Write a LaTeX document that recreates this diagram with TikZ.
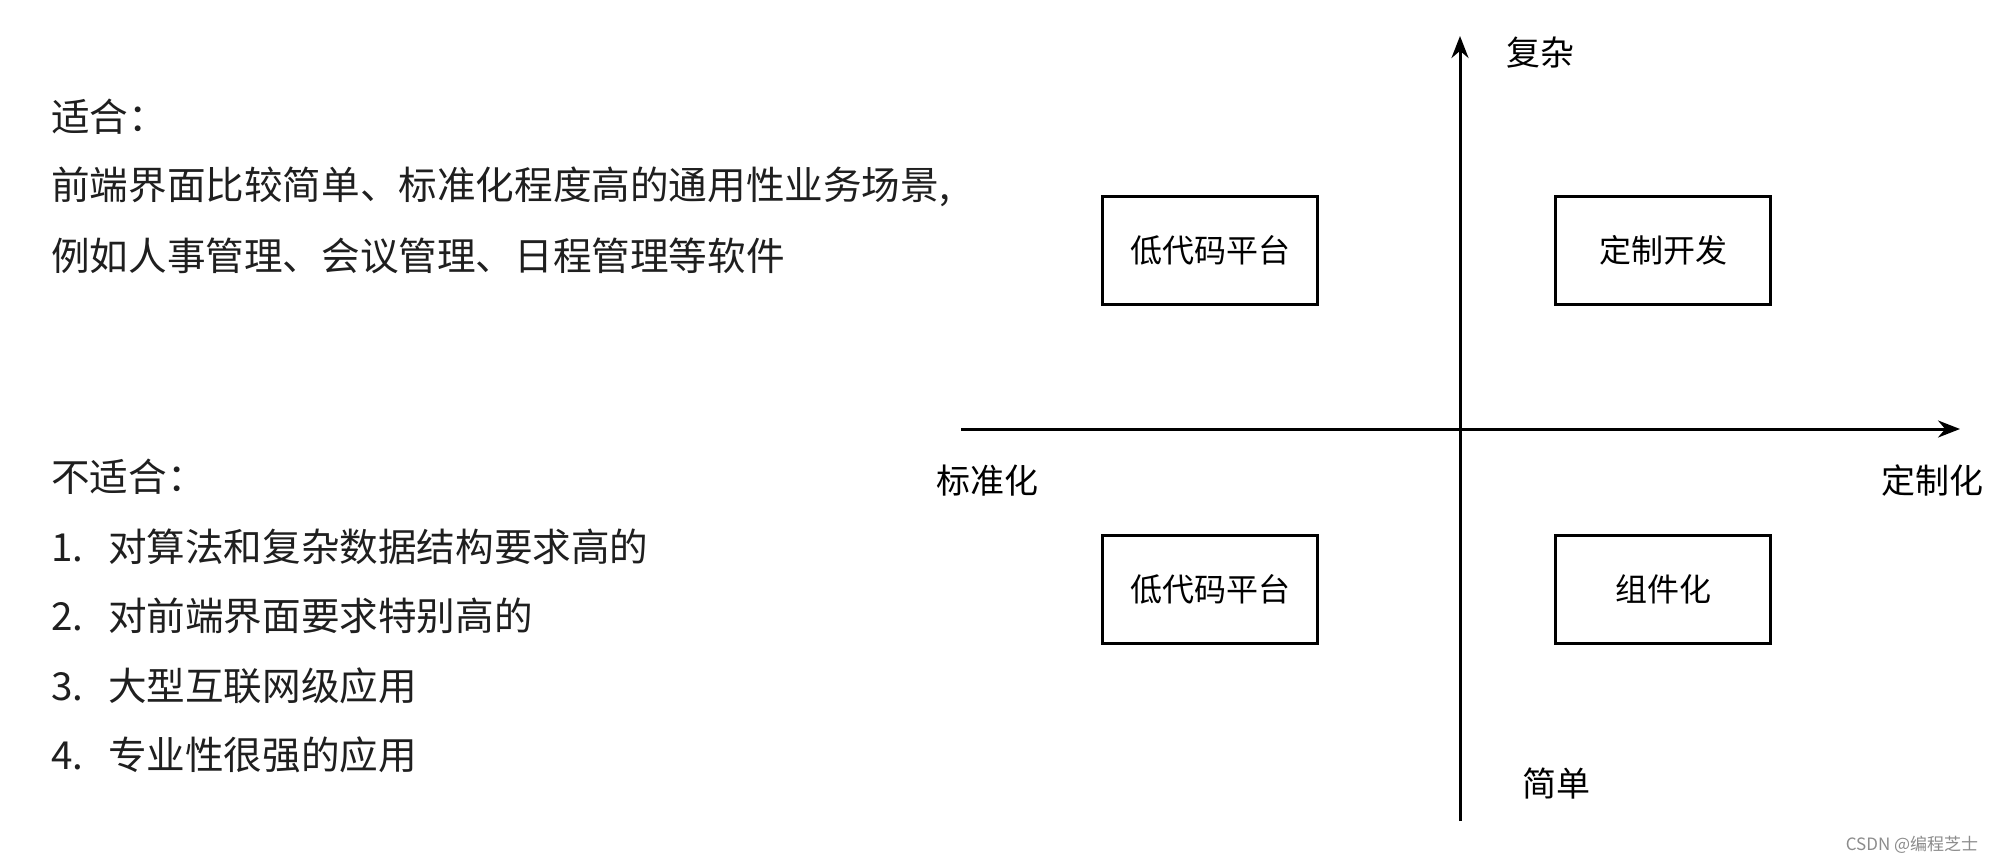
\documentclass[tikz,border=0pt]{standalone}
\usepackage{fontspec}
\setmainfont{Noto Sans CJK SC}
\usetikzlibrary{arrows.meta,positioning}
\tikzset{
  quadbox/.style={draw,line width=3pt,minimum width=215pt,minimum height=108pt,font=\fontsize{32}{36}\selectfont},
  axislabel/.style={font=\fontsize{34}{40}\selectfont},
  sidetext/.style={anchor=west,inner sep=0pt,text=black!88,font=\fontsize{38.6}{46}\selectfont},
  axisline/.style={line width=3pt,-{Stealth[length=22pt,width=17pt]}}
}
\newcommand{\listno}[1]{\makebox[57pt][l]{#1}}
\begin{document}
\begin{tikzpicture}[x=1pt,y=-1pt]
\useasboundingbox[fill=white] (0,0) rectangle (1996,864);
\node[sidetext] (fit) at (51,117) {适合：};
\node[sidetext] (fitA) at (51,187) {前端界面比较简单、标准化程度高的通用性业务场景,};
\node[sidetext] (fitB) at (51,256) {例如人事管理、会议管理、日程管理等软件};
\node[sidetext] (nofit) at (51,477) {不适合：};
\node[sidetext] (item1) at (51,547) {\listno{1.}对算法和复杂数据结构要求高的};
\node[sidetext] (item2) at (51,616) {\listno{2.}对前端界面要求特别高的};
\node[sidetext] (item3) at (51,686) {\listno{3.}大型互联网级应用};
\node[sidetext] (item4) at (51,755) {\listno{4.}专业性很强的应用};
\coordinate (xleft) at (961,429);
\coordinate (xright) at (1960,429);
\coordinate (ybottom) at (1460,821);
\coordinate (ytop) at (1460,36);
\draw[axisline] (xleft) -- (xright);
\draw[axisline] (ybottom) -- (ytop);
\node[quadbox] (lowcodeA) at (1210,250) {低代码平台};
\node[quadbox] (custom) at (1663,250) {定制开发};
\node[quadbox] (lowcodeB) at (1210,589) {低代码平台};
\node[quadbox] (component) at (1663,589) {组件化};
\node[axislabel] (complex) at (1540,53) {复杂};
\node[axislabel] (simple) at (1556,784) {简单};
\node[axislabel] (standard) at (987,481) {标准化};
\node[axislabel] (customized) at (1932,481) {定制化};
\node[text=black!45,font=\fontsize{17}{20}\selectfont] (mark) at (1912,845) {CSDN @编程芝士};
\end{tikzpicture}
\end{document}
